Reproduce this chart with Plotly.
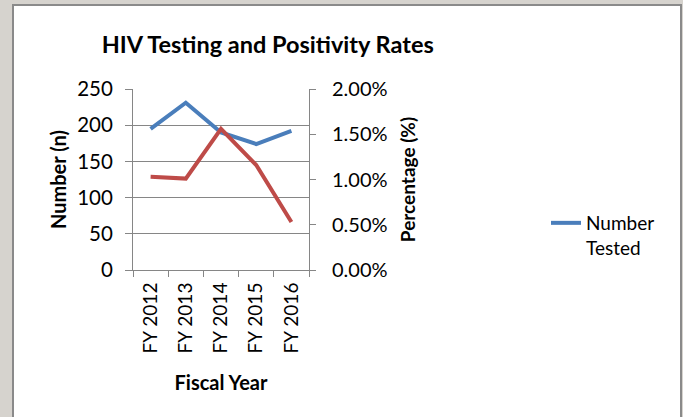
import plotly.graph_objects as go

years = ["FY 2012", "FY 2013", "FY 2014", "FY 2015", "FY 2016"]
number_tested = [195, 231, 190, 174, 192]
positivity_pct = [1.03, 1.01, 1.56, 1.16, 0.53]
left_ticks = [0, 50, 100, 150, 200, 250]
right_ticks = [0, 0.5, 1.0, 1.5, 2.0]
right_tick_text = ["0.00%", "0.50%", "1.00%", "1.50%", "2.00%"]

FONT = "Lato"
GRID = "#868686"

fig = go.Figure()
fig.add_trace(go.Scatter(x=years, y=number_tested, mode="lines", name="Number<br>Tested",
                         line=dict(color="#4a7ebb", width=4), yaxis="y"))
fig.add_trace(go.Scatter(x=years, y=positivity_pct, mode="lines", name="Positivity",
                         line=dict(color="#be4b48", width=4), yaxis="y2", showlegend=False))

fig.update_layout(
    width=683, height=417,
    paper_bgcolor="#d6d3ce", plot_bgcolor="white",
    margin=dict(l=133, r=374, t=89, b=147, autoexpand=False),
    font=dict(family=FONT, size=17, color="black"),
    title=dict(text="<b>HIV Testing and Positivity Rates</b>", xref="container", x=0.392,
               xanchor="center", yref="container", y=1 - 45 / 417, yanchor="middle",
               font=dict(family=FONT, size=23.5, color="black")),
    xaxis=dict(type="category", range=[-0.5, 4.5], tickangle=-90, tickson="boundaries",
               ticks="outside", automargin=False, ticklabelstandoff=4,
               ticklen=6, tickcolor=GRID, showline=True, linecolor=GRID, linewidth=1,
               showgrid=False, tickfont=dict(size=19),
               title=dict(text="<b>Fiscal Year</b>", font=dict(size=20), standoff=23)),
    yaxis=dict(range=[0, 250], tickvals=left_ticks, ticks="outside", ticklen=7, tickcolor=GRID,
               showline=True, linecolor=GRID, showgrid=True, gridcolor=GRID, gridwidth=1,
               zeroline=False, tickfont=dict(size=20.5), automargin=False, ticklabelstandoff=8,
               title=dict(text="<b>Number (n)</b>", font=dict(size=20), standoff=5)),
    yaxis2=dict(range=[0, 2.0], tickvals=right_ticks, ticktext=right_tick_text, overlaying="y",
                side="right", ticks="outside", ticklen=6, tickcolor=GRID, showline=True,
                linecolor=GRID, showgrid=False, zeroline=False, tickfont=dict(size=20),
                automargin=False, ticklabelstandoff=12,
                title=dict(text="<b>Percentage (%)</b>", font=dict(size=19), standoff=15)),
    legend=dict(x=(546 - 133) / 176, y=1 - (204 - 89) / 181, xanchor="left", yanchor="top",
                valign="top", bgcolor="rgba(0,0,0,0)", font=dict(size=19)),
    shapes=[dict(type="rect", xref="paper", yref="paper",
                 x0=-(133 - 13) / 176, x1=1 + (681 - 309) / 176,
                 y0=-(430 - 270) / 181, y1=1 + (89 - 5) / 181,
                 line=dict(color="#8a8a8a", width=2), fillcolor="white", layer="below")],
)

fig.write_html("out.html", config={"displayModeBar": False},
               post_script="document.body.style.margin='0';document.body.style.overflow='hidden';")
